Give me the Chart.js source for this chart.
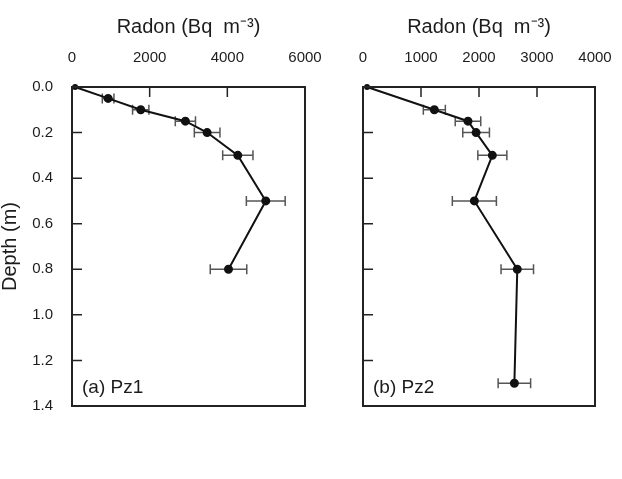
<!DOCTYPE html>
<html>
<head>
<meta charset="utf-8">
<script src="https://cdn.jsdelivr.net/npm/chart.js@4.4.1/dist/chart.umd.min.js"></script>
<style>
    body { margin: 0; background: #fff; }
    .panel { position: absolute; top: 0; height: 479px; }
</style>
</head>
<body>
<div class="panel" style="left:0;width:340px"><canvas id="pz1" width="340" height="479"></canvas></div>
<div class="panel" style="left:311px;width:311px"><canvas id="pz2" width="311" height="479"></canvas></div>
<script>
// ===== DATA =====
const depthTicks = [0, 0.2, 0.4, 0.6, 0.8, 1.0, 1.2, 1.4];

// Pz1 profile
const depthPz1 = [0, 0.05, 0.1, 0.15, 0.2, 0.3, 0.5, 0.8];
const radonPz1 = [80, 930, 1770, 2920, 3480, 4270, 4990, 4030];
const errPz1 = [0, 150, 210, 260, 330, 390, 500, 470];

// Pz2 profile
const depthPz2 = [0, 0.1, 0.15, 0.2, 0.3, 0.5, 0.8, 1.3];
const radonPz2 = [70, 1230, 1810, 1950, 2230, 1920, 2660, 2610];
const errPz2 = [0, 190, 220, 230, 250, 380, 280, 280];

const textColor = '#1c1c1c';
const fontFamily = '"Liberation Sans", Arial, sans-serif';

// Error bars + frame + inward ticks + panel label
const framePlugin = {
    id: 'frame',
    beforeDatasetsDraw(chart, args, opts) {
        const ctx = chart.ctx;
        const xs = chart.scales.x, ys = chart.scales.y;
        const data = chart.data.datasets[0].data;
        ctx.save();
        ctx.strokeStyle = '#555';
        ctx.lineWidth = 1.5;
        data.forEach((p, i) => {
            const e = opts.errors[i];
            if (!e) return;
            const y = ys.getPixelForValue(p.y);
            const x0 = xs.getPixelForValue(p.x - e);
            const x1 = xs.getPixelForValue(p.x + e);
            ctx.beginPath();
            ctx.moveTo(x0, y); ctx.lineTo(x1, y);
            ctx.moveTo(x0, y - 5); ctx.lineTo(x0, y + 5);
            ctx.moveTo(x1, y - 5); ctx.lineTo(x1, y + 5);
            ctx.stroke();
        });
        ctx.restore();
    },
    afterDraw(chart, args, opts) {
        const ctx = chart.ctx;
        const a = chart.chartArea;
        const xs = chart.scales.x, ys = chart.scales.y;
        ctx.save();
        ctx.strokeStyle = '#222';
        ctx.lineWidth = 1.5;
        // inward ticks
        ctx.beginPath();
        xs.ticks.forEach(t => {
            if (t.value <= xs.min || t.value >= xs.max) return;
            const x = xs.getPixelForValue(t.value);
            ctx.moveTo(x, a.top); ctx.lineTo(x, a.top + 10);
        });
        ys.ticks.forEach(t => {
            if (t.value <= ys.min || t.value >= ys.max) return;
            const y = ys.getPixelForValue(t.value);
            ctx.moveTo(a.left, y); ctx.lineTo(a.left + 10, y);
        });
        ctx.stroke();
        // box
        ctx.lineWidth = 2;
        ctx.strokeRect(a.left, a.top, a.right - a.left, a.bottom - a.top);
        // panel label
        ctx.fillStyle = textColor;
        ctx.font = '19px ' + fontFamily;
        ctx.textBaseline = 'middle';
        ctx.fillText(opts.label, a.left + 10, a.bottom - 18);
        ctx.restore();
    }
};

function makeChart(id, depth, radon, errors, xMax, xStep, label, showY, padRight) {
    const ctx = document.getElementById(id);
    if (!ctx) return;
    const points = depth.map((d, i) => ({ x: radon[i], y: d }));
    new Chart(ctx, {
        type: 'scatter',
        data: {
            datasets: [{
                data: points,
                showLine: true,
                borderColor: '#111',
                borderWidth: 2,
                backgroundColor: '#111',
                pointRadius: points.map((p, i) => i === 0 ? 2 : 3.5),
                pointHoverRadius: 3.5,
                clip: false
            }]
        },
        options: {
            responsive: false,
            animation: false,
            devicePixelRatio: 1,
            layout: { padding: { right: padRight, bottom: 73, top: 0, left: 0 } },
            plugins: {
                legend: { display: false },
                tooltip: { enabled: false },
                frame: { errors: errors, label: label }
            },
            scales: {
                x: {
                    type: 'linear',
                    position: 'top',
                    min: 0,
                    max: xMax,
                    grid: { display: false, drawTicks: false },
                    border: { display: false },
                    ticks: {
                        stepSize: xStep,
                        color: textColor,
                        padding: 20,
                        maxRotation: 0,
                        font: { size: 15, family: fontFamily },
                        callback: v => String(v)
                    },
                    title: {
                        display: true,
                        text: 'Radon (Bq  m\u207B\u00B3)',
                        color: textColor,
                        padding: { top: 15, bottom: 0 },
                        font: { size: 20, family: fontFamily }
                    },
                    afterFit: s => { s.height = 87; s.paddingLeft = 0; s.paddingRight = 0; }
                },
                y: {
                    type: 'linear',
                    reverse: true,
                    min: 0,
                    max: 1.4,
                    afterBuildTicks: s => { s.ticks = depthTicks.map(v => ({ value: v })); },
                    grid: { display: false, drawTicks: false },
                    border: { display: false },
                    ticks: {
                        display: showY,
                        color: textColor,
                        padding: 19,
                        font: { size: 15, family: fontFamily },
                        callback: v => Number(v).toFixed(1)
                    },
                    title: {
                        display: showY,
                        text: 'Depth (m)',
                        color: textColor,
                        padding: { top: 0, bottom: 0 },
                        font: { size: 20, family: fontFamily, lineHeight: 1 }
                    },
                    afterFit: s => { s.width = showY ? 72 : 52; s.paddingTop = 0; s.paddingBottom = 0; }
                }
            }
        },
        plugins: [framePlugin]
    });
}

makeChart('pz1', depthPz1, radonPz1, errPz1, 6000, 2000, '(a) Pz1', true, 35);
makeChart('pz2', depthPz2, radonPz2, errPz2, 4000, 1000, '(b) Pz2', false, 27);
</script>
</body>
</html>
